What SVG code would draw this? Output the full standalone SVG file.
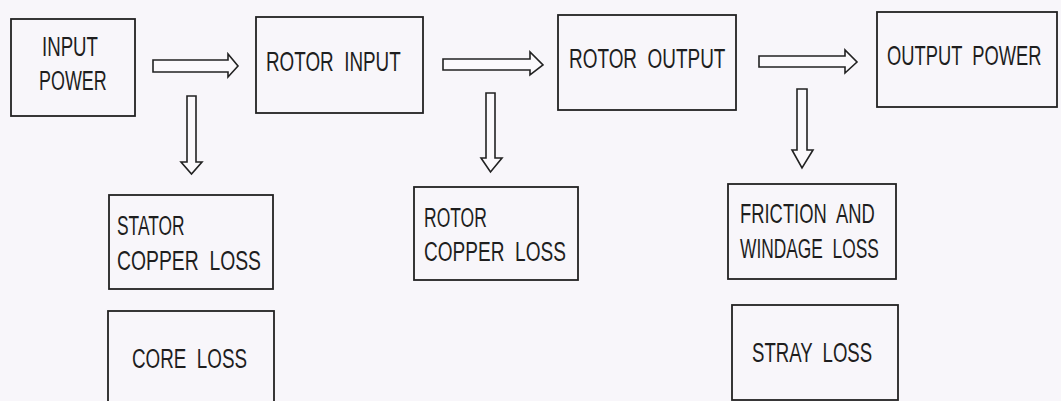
<svg xmlns="http://www.w3.org/2000/svg" width="1061" height="401" viewBox="0 0 1061 401">
<style>
.box{fill:none;stroke:#222;stroke-width:1.8}
.t{font-family:"Liberation Sans",Arial,sans-serif;font-size:28px;fill:#1e1e1e;white-space:pre}
.arr{fill:#fbf9fc;stroke:#222;stroke-width:1.6;stroke-linejoin:miter}
</style>
<rect x="0" y="0" width="1061" height="401" fill="#f8f6fa"/>
<g id="connectors">
<path class="arr" d="M153,60 H228 V54 L238,66 L228,77 V72 H153 Z"/>
<path class="arr" d="M443,59 H530 V52 L543,65 L530,75 V70 H443 Z"/>
<path class="arr" d="M759,56 H845 V50 L857,62 L845,73 V67 H759 Z"/>
<path class="arr" d="M187,96 H196 V162 H202 L191.5,174 L181,162 H187 Z"/>
<path class="arr" d="M486,93 H495 V158 H502 L490.5,172 L481,158 H486 Z"/>
<path class="arr" d="M797,89 H807 V150 H813 L802,168 L792,150 H797 Z"/>
</g>
<g id="input-power">
<rect class="box" x="11" y="19" width="124" height="97"/>
<text class="t" transform="translate(42,56) scale(0.667,1)">INPUT</text>
<text class="t" transform="translate(39,90) scale(0.64,1)">POWER</text>
</g>
<g id="rotor-input">
<rect class="box" x="256" y="17" width="167" height="96"/>
<text class="t" transform="translate(266,71) scale(0.673,1)">ROTOR  INPUT</text>
</g>
<g id="rotor-output">
<rect class="box" x="558" y="15" width="178" height="95"/>
<text class="t" transform="translate(569,68) scale(0.677,1)">ROTOR  OUTPUT</text>
</g>
<g id="output-power">
<rect class="box" x="877" y="12" width="180" height="95"/>
<text class="t" transform="translate(887,65) scale(0.655,1)">OUTPUT  POWER</text>
</g>
<g id="stator-copper-loss">
<rect class="box" x="109" y="195" width="164" height="94"/>
<text class="t" transform="translate(117,235) scale(0.62,1)">STATOR</text>
<text class="t" transform="translate(117,270) scale(0.691,1)">COPPER  LOSS</text>
</g>
<g id="core-loss">
<rect class="box" x="108" y="311" width="166" height="100"/>
<text class="t" transform="translate(132,368) scale(0.672,1)">CORE  LOSS</text>
</g>
<g id="rotor-copper-loss">
<rect class="box" x="414" y="187" width="164" height="93"/>
<text class="t" transform="translate(424,227) scale(0.625,1)">ROTOR</text>
<text class="t" transform="translate(424,261) scale(0.681,1)">COPPER  LOSS</text>
</g>
<g id="friction-windage-loss">
<rect class="box" x="728" y="184" width="168" height="95"/>
<text class="t" transform="translate(740,223) scale(0.657,1)">FRICTION  AND</text>
<text class="t" transform="translate(740,258) scale(0.62,1)">WINDAGE  LOSS</text>
</g>
<g id="stray-loss">
<rect class="box" x="732" y="305" width="166" height="95"/>
<text class="t" transform="translate(752,362) scale(0.664,1)">STRAY  LOSS</text>
</g>
</svg>
